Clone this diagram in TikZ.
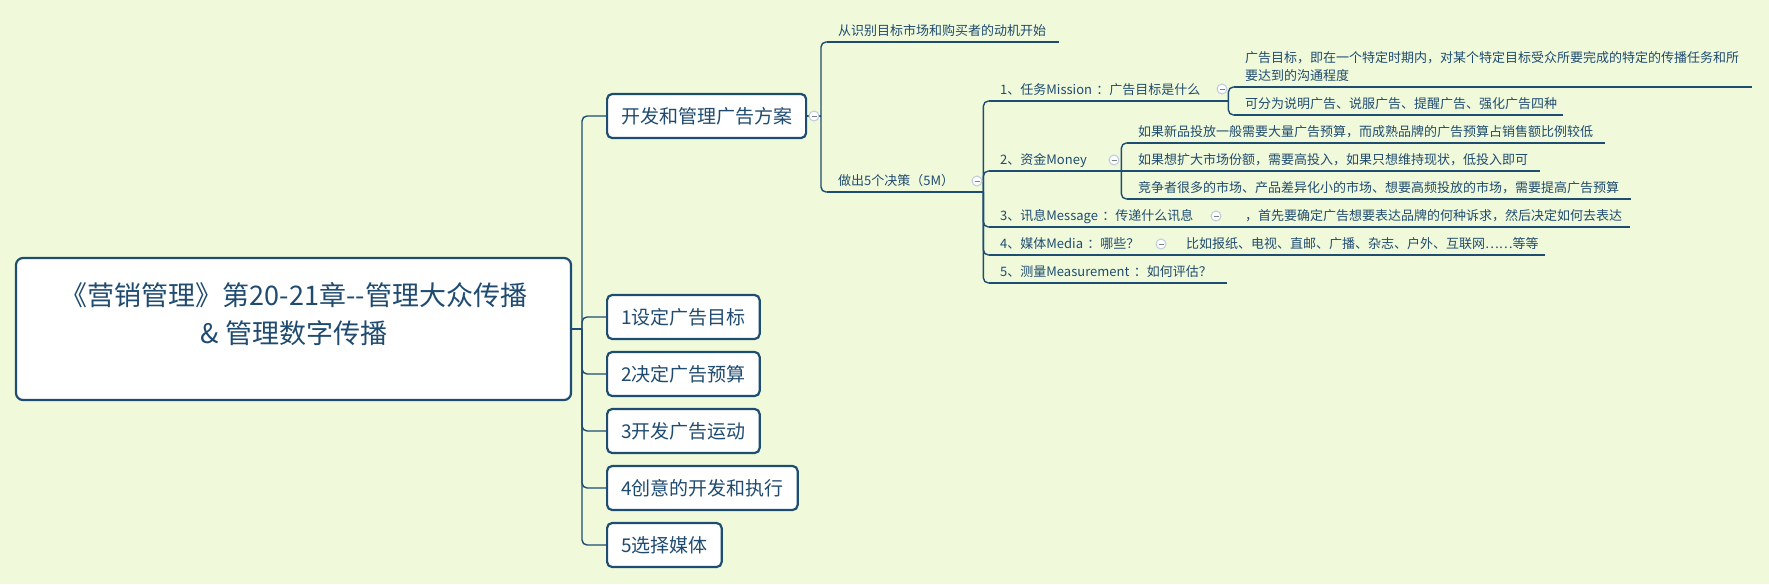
\documentclass[tikz,border=0pt]{standalone}
\usepackage{fontspec}
\setmainfont{Noto Sans CJK SC}
\usepackage{xcolor}
\usepackage{tikz}
\usetikzlibrary{positioning, shapes.geometric}

\definecolor{paper}{HTML}{F0FADB}
\definecolor{ink}{HTML}{1F4B70}
\definecolor{wire}{HTML}{1E4D72}
\definecolor{foldring}{HTML}{B9CCE0}

\begin{document}
\begin{tikzpicture}[
    x=1pt, y=-1pt,
    rootbox/.style={rectangle, draw=wire, fill=white, line width=2.2pt, rounded corners=7pt, minimum width=555pt, minimum height=142pt},
    title/.style={align=center, text=ink, font=\fontsize{27}{38}\selectfont},
    mainbox/.style={rectangle, draw=wire, fill=white, line width=2.2pt, rounded corners=5pt, anchor=west, inner xsep=14pt, minimum height=44pt, text=ink, font=\fontsize{19}{23}\selectfont},
    uline/.style={draw=wire, line width=1.4pt},
    topic/.style={anchor=south west, inner xsep=11pt, inner ysep=1pt, text width=#1, align=left, text=ink, font=\fontsize{13}{18}\selectfont, execute at end node=\strut,
        append after command={(\tikzlastnode.south west) edge[uline] (\tikzlastnode.south east)}},
    branch/.style={draw=wire, line width=1.4pt, rounded corners=5pt},
    fold/.style={circle, draw=foldring, fill=white, line width=1pt, minimum size=10pt, inner sep=0pt,
        path picture={\draw[gray, line width=0.8pt] ([xshift=-2.5pt]path picture bounding box.center) -- ([xshift=2.5pt]path picture bounding box.center);}}
]
\fill[paper] (0,0) rectangle (1769,584);
\useasboundingbox (0,0) rectangle (1769,584);

% root
\node[rootbox] (root) at (293.5,329) {};
\node[title] (roottitle) at (294,314) {《营销管理》第20-21章-{}-管理大众传播\\\& 管理数字传播};

% first level
\node[mainbox] (l0) at (606,116) {开发和管理广告方案};
\node[mainbox] (l1) at (606,317) {1设定广告目标};
\node[mainbox] (l2) at (606,374) {2决定广告预算};
\node[mainbox] (l3) at (606,431) {3开发广告运动};
\node[mainbox] (l4) at (606,488) {4创意的开发和执行};
\node[mainbox] (l5) at (606,545) {5选择媒体};

\coordinate (rootjoin) at (582,329);
\draw[branch] (root.east) -- (rootjoin);
\foreach \n in {l0,l1,l2,l3,l4,l5}
    \draw[branch] (rootjoin) |- (\n.west);

% second level
\node[topic=210pt] (a1) at (827,42) {从识别目标市场和购买者的动机开始};
\node[topic=134pt] (a2) at (827,192) {做出5个决策（5M）};

\coordinate (l0join) at (821,116);
\draw[branch] (l0.east) -- (l0join);
\draw[branch] (l0join) |- (a1.south west);
\draw[branch] (l0join) |- (a2.south west);

% the five M
\node[topic=217pt] (m1) at (989,101) {1、任务Mission~：广告目标是什么};
\node[topic=110pt] (m2) at (989,171) {2、资金Money};
\node[topic=217pt] (m3) at (989,227) {3、讯息Message~：传递什么讯息};
\node[topic=158pt] (m4) at (989,255) {4、媒体Media~：哪些？};
\node[topic=216pt] (m5) at (989,283) {5、测量Measurement~：如何评估？};

\foreach \n in {m1,m2,m3,m4,m5}
    \draw[branch] (a2.south east) |- (\n.south west);

% details
\node[topic=496pt] (m1a) at (1234,87) {广告目标，即在一个特定时期内，对某个特定目标受众所要完成的特定的传播任务和所\\要达到的沟通程度};
\node[topic=307pt] (m1b) at (1234,115) {可分为说明广告、说服广告、提醒广告、强化广告四种};
\draw[branch] (m1.south east) |- (m1a.south west);
\draw[branch] (m1.south east) |- (m1b.south west);

\node[topic=456pt] (m2a) at (1127,143) {如果新品投放一般需要大量广告预算，而成熟品牌的广告预算占销售额比例较低};
\node[topic=391pt] (m2b) at (1127,171) {如果想扩大市场份额，需要高投入，如果只想维持现状，低投入即可};
\node[topic=482pt] (m2c) at (1127,199) {竞争者很多的市场、产品差异化小的市场、想要高频投放的市场，需要提高广告预算};
\draw[branch] (m2.south east) |- (m2a.south west);
\draw[branch] (m2.south east) -- (m2b.south west);
\draw[branch] (m2.south east) |- (m2c.south west);

\node[topic=374pt] (m3a) at (1234,227) {，首先要确定广告想要表达品牌的何种诉求，然后决定如何去表达};
\draw[branch] (m3.south east) -- (m3a.south west);

\node[topic=348pt] (m4a) at (1175,255) {比如报纸、电视、直邮、广播、杂志、户外、互联网……等等};
\draw[branch] (m4.south east) -- (m4a.south west);

% collapse marks
\node[fold] (fl0) at (814,116) {};
\node[fold] (fa2) at (977,181) {};
\node[fold] (fm1) at (1222,89) {};
\node[fold] (fm2) at (1114,160) {};
\node[fold] (fm3) at (1216,216) {};
\node[fold] (fm4) at (1161,244) {};
\end{tikzpicture}
\end{document}
